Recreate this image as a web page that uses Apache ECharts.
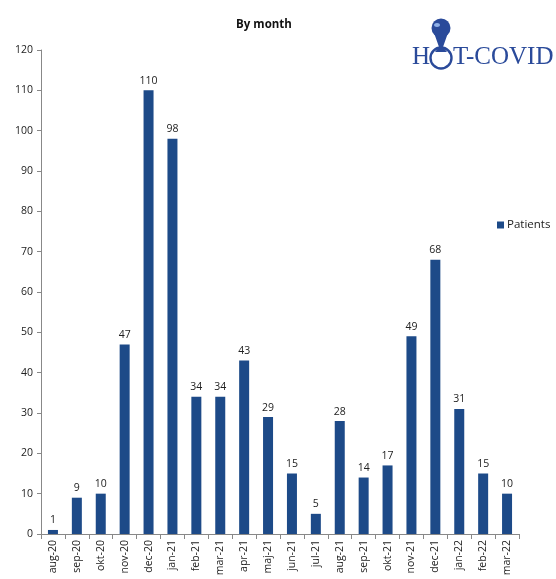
<!DOCTYPE html>
<html><head><meta charset="utf-8">
<script src="https://cdn.jsdelivr.net/npm/echarts@6/dist/echarts.min.js"></script>
<style>html,body{margin:0;padding:0;background:#fff}#c{width:556px;height:579px}</style>
</head><body><div id="c"></div>
<script>
const categories = ['aug-20','sep-20','okt-20','nov-20','dec-20','jan-21','feb-21','mar-21','apr-21','maj-21','jun-21','jul-21','aug-21','sep-21','okt-21','nov-21','dec-21','jan-22','feb-22','mar-22'];
const patients = [1,9,10,47,110,98,34,34,43,29,15,5,28,14,17,49,68,31,15,10];
const seriesName = 'Patients';
const titleText = 'By month';
const logoText = ['H','T-COVID'];

const blue = '#1d4a88';
const logoBlue = '#2a4a9a';
const chart = echarts.init(document.getElementById('c'));
chart.setOption({
  animation: false,
  title: { text: titleText, left: 259, top: 14, textAlign: 'center',
    textStyle: { fontFamily: 'Open Sans', fontSize: 11.5, fontWeight: 'bold', color: '#111' } },
  legend: { data: [seriesName], left: 492, top: 214, itemWidth: 7, itemHeight: 7, itemGap: 4,
    icon: 'rect', textStyle: { fontFamily: 'Open Sans', fontSize: 11.5, color: '#222', padding: [0,0,0,-2] } },
  grid: { left: 41, right: 37, top: 50, bottom: 45, containLabel: false },
  xAxis: { type: 'category', data: categories,
    axisLine: { lineStyle: { color: '#888' } },
    axisTick: { show: true, length: 5, lineStyle: { color: '#888' } },
    axisLabel: { rotate: 90, fontFamily: 'Open Sans', fontSize: 10.5, color: '#222', margin: 6, interval: 0 } },
  yAxis: { type: 'value', min: 0, max: 120, interval: 10,
    axisLine: { show: true, lineStyle: { color: '#888' } },
    axisTick: { show: true, length: 4, lineStyle: { color: '#888' } },
    splitLine: { show: false },
    axisLabel: { fontFamily: 'Open Sans', fontSize: 10.5, color: '#222', margin: 8 } },
  series: [{ name: seriesName, type: 'bar', data: patients, barWidth: 10,
    itemStyle: { color: blue },
    label: { show: true, position: 'top', distance: 4, fontFamily: 'Open Sans', fontSize: 10.5, color: '#222' } }],
  graphic: [
    { type: 'text', left: 412, top: 45, style: { text: logoText[0], font: '25px "Liberation Serif"', fill: logoBlue } },
    { type: 'text', left: 453, top: 45, style: { text: logoText[1], font: '25px "Liberation Serif"', fill: logoBlue } },
    { type: 'circle', shape: { cx: 441, cy: 58, r: 10.5 }, style: { fill: 'none', stroke: logoBlue, lineWidth: 2.4 } },
    { type: 'polygon', shape: { points: [[433,30],[449,30],[443,47],[447,52],[435,52],[439,47]] }, style: { fill: logoBlue } },
    { type: 'circle', shape: { cx: 441, cy: 28, r: 9.5 }, style: { fill: logoBlue } },
    { type: 'ellipse', shape: { cx: 437, cy: 25, rx: 3, ry: 2 }, style: { fill: '#8fb0e8' } }
  ]
});
</script></body></html>
